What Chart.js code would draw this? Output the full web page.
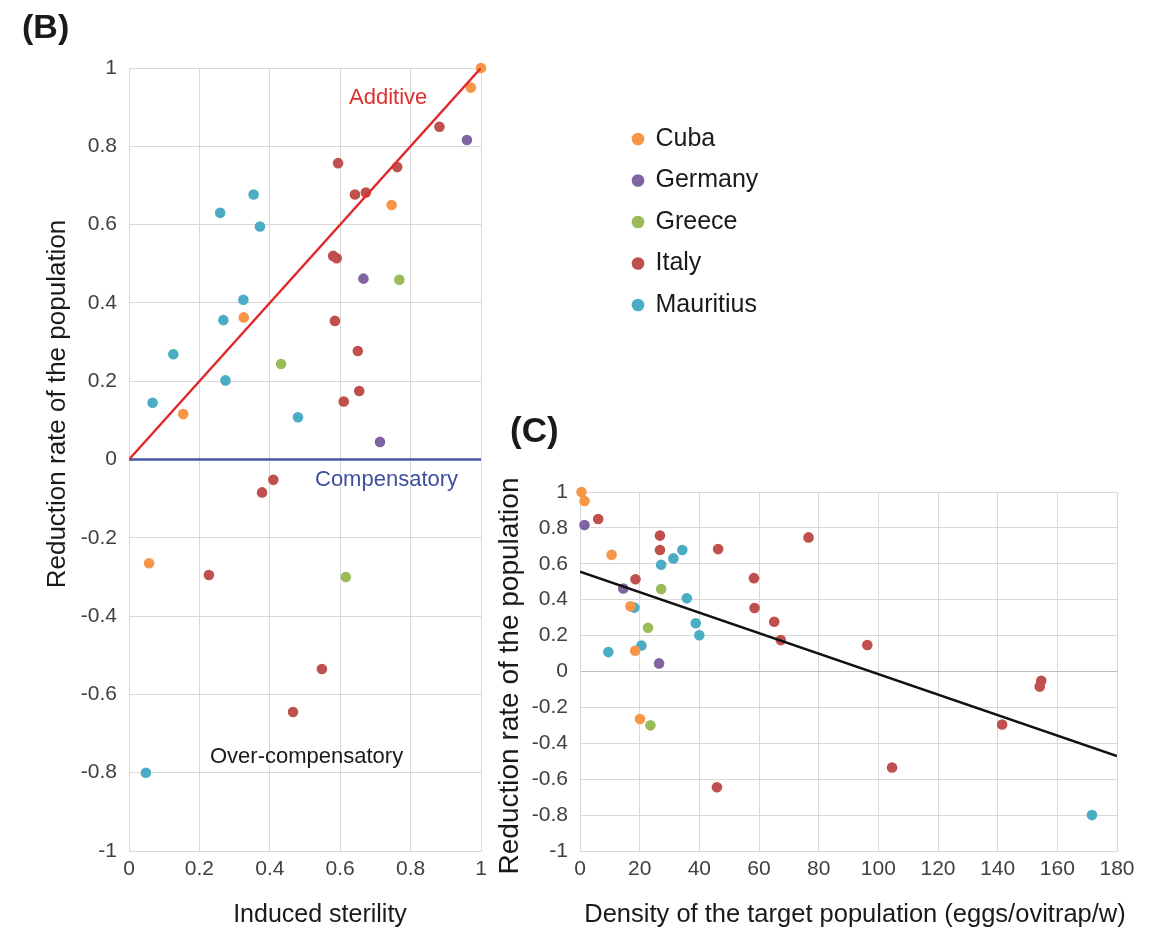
<!DOCTYPE html>
<html>
<head>
<meta charset="utf-8">
<title>Reduction rate of the population</title>
<script src="https://cdn.jsdelivr.net/npm/chart.js@4.4.1/dist/chart.umd.min.js"></script>
<style>
  html, body { margin: 0; padding: 0; background: #fff; }
  #wrap { position: relative; width: 1157px; height: 930px; }
  #wrap canvas { position: absolute; left: 0; top: 0; }
</style>
</head>
<body>
<div id="wrap">
  <canvas id="chart-b" width="1157" height="930"></canvas>
  <canvas id="chart-c" width="1157" height="930"></canvas>
</div>
<script>
// Countries and their colours
const countries = ['Cuba', 'Germany', 'Greece', 'Italy', 'Mauritius'];
const countryColors = ['#f79646', '#8064a2', '#9bbb59', '#c0504d', '#4bacc6'];

// Reduction rate of the population (y in both panels)
const cubaReduction      = [1.0, 0.95, 0.65, 0.363, 0.116, -0.265];
const germanyReduction   = [0.816, 0.462, 0.045];
const greeceReduction    = [0.459, 0.244, -0.30];
const italyReduction     = [0.85, 0.757, 0.747, 0.677, 0.682, 0.52, 0.514, 0.354, 0.277, 0.175, 0.148, -0.052, -0.084, -0.295, -0.535, -0.645];
const mauritiusReduction = [0.677, 0.63, 0.595, 0.408, 0.356, 0.269, 0.202, 0.145, 0.108, -0.80];

// Induced sterility (x in panel B)
const cubaSterility      = [1.0, 0.971, 0.746, 0.326, 0.154, 0.057];
const germanySterility   = [0.96, 0.666, 0.713];
const greeceSterility    = [0.768, 0.432, 0.616];
const italySterility     = [0.882, 0.594, 0.762, 0.642, 0.673, 0.58, 0.59, 0.585, 0.65, 0.654, 0.61, 0.41, 0.378, 0.227, 0.548, 0.466];
const mauritiusSterility = [0.354, 0.259, 0.372, 0.325, 0.268, 0.126, 0.274, 0.067, 0.48, 0.048];

// Density of the target population, eggs/ovitrap/w (x in panel C)
const cubaDensity      = [0.5, 1.5, 10.6, 16.9, 18.5, 20.1];
const germanyDensity   = [1.5, 14.5, 26.5];
const greeceDensity    = [27.2, 22.8, 23.6];
const italyDensity     = [6.1, 26.8, 76.6, 26.8, 46.3, 58.3, 18.6, 58.5, 65.1, 67.3, 96.3, 154.6, 154.1, 141.5, 104.6, 45.9];
const mauritiusDensity = [34.3, 31.3, 27.2, 35.8, 18.2, 38.8, 40.0, 20.6, 9.5, 171.6];

// Reference lines of panel B and trend line of panel C
const additiveX = [0, 1];
const additiveY = [0, 1];
const compensatoryX = [0, 1];
const compensatoryY = [0, 0];
const trendX = [0, 180];
const trendY = [0.556, -0.471];

// Axis ticks
const reductionTicks = [-1, -0.8, -0.6, -0.4, -0.2, 0, 0.2, 0.4, 0.6, 0.8, 1];
const sterilityTicks = [0, 0.2, 0.4, 0.6, 0.8, 1];
const densityTicks = [0, 20, 40, 60, 80, 100, 120, 140, 160, 180];

const reductions = [cubaReduction, germanyReduction, greeceReduction, italyReduction, mauritiusReduction];
const sterilities = [cubaSterility, germanySterility, greeceSterility, italySterility, mauritiusSterility];
const densities = [cubaDensity, germanyDensity, greeceDensity, italyDensity, mauritiusDensity];

const FONT = "'Liberation Sans', Arial, sans-serif";
const gridColor = '#d9d9d9';
const tickColor = '#404040';
const textColor = '#1a1a1a';

Chart.defaults.font.family = FONT;
Chart.defaults.color = tickColor;
Chart.defaults.animation = false;

function zip(xs, ys) {
    return xs.map((x, i) => ({ x: x, y: ys[i] }));
}

function countryDatasets(xsList) {
    return countries.map((name, i) => ({
        label: name,
        data: zip(xsList[i], reductions[i]),
        backgroundColor: countryColors[i],
        borderColor: countryColors[i],
        borderWidth: 0,
        pointRadius: 5.3,
        pointHoverRadius: 5.3,
        clip: false,
        order: 1
    }));
}

function lineDataset(label, xs, ys, color) {
    return {
        label: label,
        data: zip(xs, ys),
        showLine: true,
        borderColor: color,
        backgroundColor: color,
        borderWidth: 2.5,
        pointRadius: 0,
        fill: false,
        order: 0
    };
}

function fmt(v) {
    return String(Math.round(v * 10) / 10);
}

// Free text drawn on the canvas (panel letters, axis titles, annotations)
function textPlugin(items) {
    return {
        id: 'freeText',
        afterDraw(chart) {
            const ctx = chart.ctx;
            items.forEach(t => {
                ctx.save();
                ctx.font = t.font;
                ctx.fillStyle = t.color || textColor;
                ctx.textAlign = t.align || 'left';
                ctx.textBaseline = 'alphabetic';
                ctx.translate(t.x, t.y);
                if (t.rotate) ctx.rotate(t.rotate);
                ctx.fillText(t.text, 0, 0);
                ctx.restore();
            });
        }
    };
}

// Put the legend box to the right of panel B
function legendPlugin(left, top) {
    return {
        id: 'moveLegend',
        beforeDraw(chart) {
            const lg = chart.legend;
            if (!lg) return;
            const w = lg.width, h = lg.height;
            lg.left = left; lg.top = top;
            lg.right = left + w; lg.bottom = top + h;
        }
    };
}

function axis(min, max, step, tickList, padding, fitFn, gridFn) {
    return {
        type: 'linear',
        min: min,
        max: max,
        afterBuildTicks: scale => { scale.ticks = tickList.map(v => ({ value: v })); },
        ticks: {
            stepSize: step,
            padding: padding,
            color: tickColor,
            font: { size: 21 },
            autoSkip: false,
            maxRotation: 0,
            callback: fmt
        },
        grid: { color: gridFn || gridColor, drawTicks: false, lineWidth: 1 },
        border: { color: gridColor },
        afterFit: fitFn
    };
}

// Panel B: reduction rate vs induced sterility
new Chart(document.getElementById('chart-b'), {
    type: 'scatter',
    data: {
        datasets: countryDatasets(sterilities).concat([
            lineDataset('Additive', additiveX, additiveY, '#e02a2a'),
            lineDataset('Compensatory', compensatoryX, compensatoryY, '#4455aa')
        ])
    },
    options: {
        responsive: false,
        layout: { padding: { left: 0, top: 68, right: 676, bottom: 0 } },
        plugins: {
            tooltip: { enabled: false },
            legend: {
                position: 'chartArea',
                align: 'start',
                labels: {
                    usePointStyle: true,
                    boxWidth: 10,
                    boxHeight: 9,
                    padding: 16.5,
                    color: textColor,
                    font: { size: 25 },
                    filter: item => item.datasetIndex < countries.length
                }
            }
        },
        scales: {
            x: axis(0, 1, 0.2, sterilityTicks, 6, s => { s.height = 79; }),
            y: axis(-1, 1, 0.2, reductionTicks, 12, s => { s.width = 129; })
        }
    },
    plugins: [
        legendPlugin(616.5, 110),
        textPlugin([
            { text: '(B)', x: 22, y: 38, font: 'bold 34px ' + FONT },
            { text: 'Additive', x: 349, y: 104, font: '22px ' + FONT, color: '#e0302e' },
            { text: 'Compensatory', x: 315, y: 486, font: '22px ' + FONT, color: '#3f4fa0' },
            { text: 'Over-compensatory', x: 210, y: 763, font: '22px ' + FONT },
            { text: 'Reduction rate of the population', x: 65, y: 404, font: '26px ' + FONT, align: 'center', rotate: -Math.PI / 2 },
            { text: 'Induced sterility', x: 320, y: 922, font: '25px ' + FONT, align: 'center' }
        ])
    ]
});

// Panel C: reduction rate vs density of the target population
new Chart(document.getElementById('chart-c'), {
    type: 'scatter',
    data: {
        datasets: countryDatasets(densities).concat([
            lineDataset('Trend', trendX, trendY, '#111111')
        ])
    },
    options: {
        responsive: false,
        layout: { padding: { left: 480, top: 492, right: 40, bottom: 0 } },
        plugins: {
            tooltip: { enabled: false },
            legend: { display: false }
        },
        scales: {
            x: axis(0, 180, 20, densityTicks, 6, s => { s.height = 79; }),
            y: axis(-1, 1, 0.2, reductionTicks, 12, s => { s.width = 100; },
                ctx => (ctx.tick && ctx.tick.value === 0 ? '#bfbfbf' : gridColor))
        }
    },
    plugins: [
        textPlugin([
            { text: '(C)', x: 510, y: 442, font: 'bold 35px ' + FONT },
            { text: 'Reduction rate of the population', x: 518, y: 676, font: '28px ' + FONT, align: 'center', rotate: -Math.PI / 2 },
            { text: 'Density of the target population (eggs/ovitrap/w)', x: 855, y: 922, font: '25.5px ' + FONT, align: 'center' }
        ])
    ]
});
</script>
</body>
</html>
